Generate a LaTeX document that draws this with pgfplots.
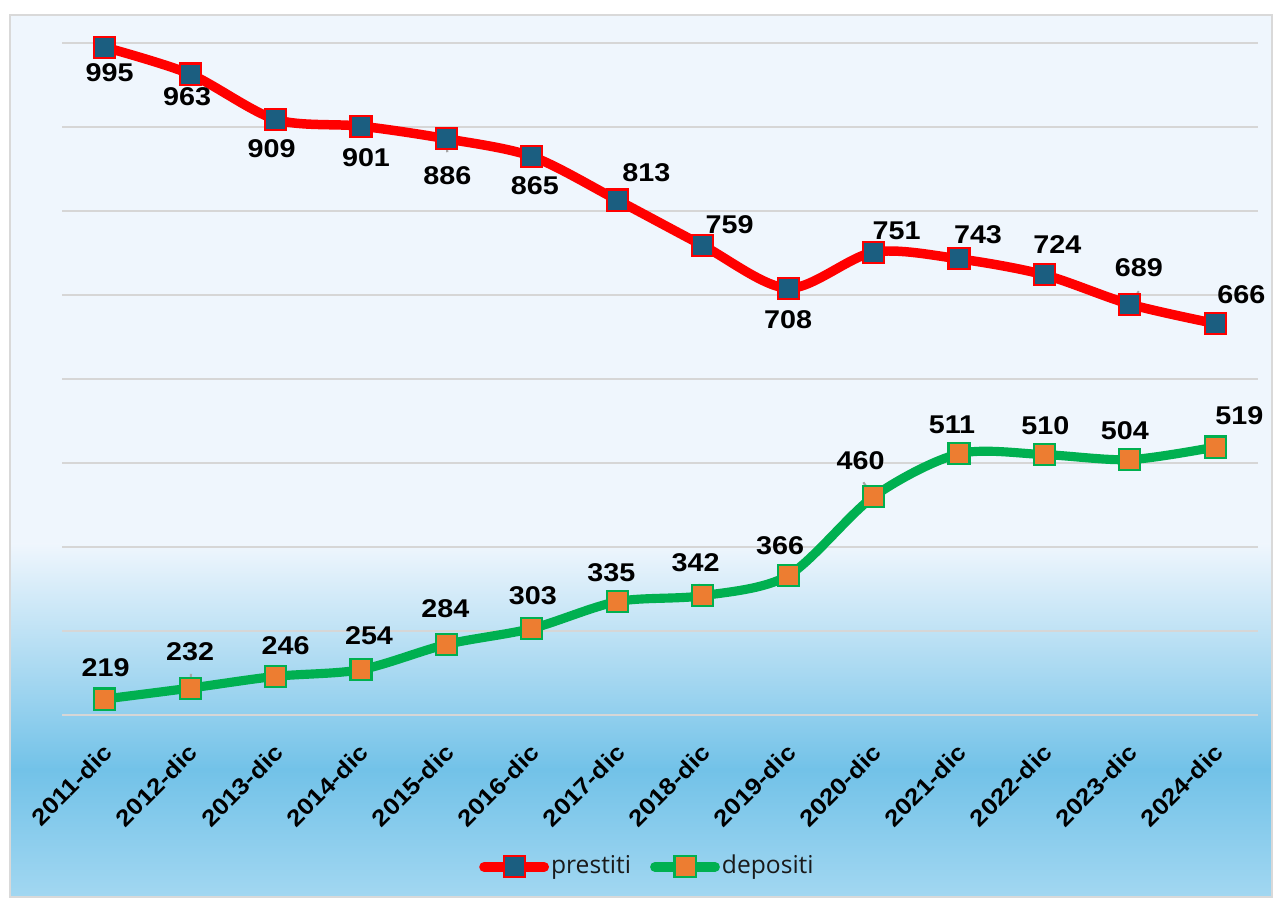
\documentclass[border=0pt]{standalone}
\usepackage{fontspec}
\setmainfont{Liberation Sans}
\newfontfamily\lblfont[FakeStretch=1.12]{Liberation Sans}
\newfontfamily\legfont{Open Sans}
\usepackage{pgfplots}
\usepackage{pgfplotstable}
\pgfplotsset{compat=1.18}

\definecolor{redl}{HTML}{FF0000}
\definecolor{bluem}{HTML}{1B5E80}
\definecolor{greenl}{HTML}{00B050}
\definecolor{orangem}{HTML}{ED7D31}
\definecolor{bgtop}{HTML}{EFF6FD}
\definecolor{bgmid}{HTML}{72C2E8}
\definecolor{bgbot}{HTML}{A2D7F1}
\definecolor{gridc}{HTML}{D6D6D6}
\definecolor{framec}{HTML}{D9D9D9}
\definecolor{leadc}{HTML}{A6A6A6}

\pgfplotstableread{
x y dx dy
0 995 5 -25
1 963 -3 -23
2 909 -4 -29
3 901 5 -32
4 886 1 -37
5 865 3 -29
6 813 29 27
7 759 27 21
8 708 0 -31
9 751 23 21
10 743 19 24
11 724 13 30
12 689 9 37
13 666 26 29
}\prestiti

\pgfplotstableread{
x y dx dy
0 219 1 31
1 232 0 36
2 246 10 31
3 254 8 34
4 284 -1 36
5 303 1 33
6 335 -6 29
7 342 -7 33
8 366 -8 30
9 460 -13 36
10 511 -7 29
11 510 1 29
12 504 -5 29
13 519 24 31
}\depositi

% leader lines of the data labels: start point and extent (axis units)
\pgfplotstableread{
x y u v
4 886 0.01 -16
12 689 0.105 15.5
1 232 0.01 17
3 254 0.09 13
4 284 0 14
5 303 0.01 13
7 342 -0.05 14
9 460 -0.12 17
}\leaders

\pgfplotsset{
  lbls/.style={
    nodes near coords, point meta=explicit symbolic,
    visualization depends on={\thisrow{dx}\as\dx},
    visualization depends on={\thisrow{dy}\as\dy},
    nodes near coords style={anchor=center, inner sep=0pt, text=black,
      font=\lblfont\bfseries\fontsize{7.3}{8}\selectfont,
      xshift=\dx*0.2845pt, yshift=\dy*0.2845pt},
  },
}

\begin{document}
\begin{tikzpicture}
\useasboundingbox (0,0) rectangle (12.75,9);
\fill[white] (0,0) rectangle (12.75,9);
\fill[bgtop] (0.1,3.55) rectangle (12.72,8.85);
\shade[top color=bgtop,bottom color=bgmid] (0.1,1.30) rectangle (12.72,3.56);
\shade[top color=bgmid,bottom color=bgbot] (0.1,0.03) rectangle (12.72,1.31);
\draw[framec, line width=0.6pt] (0.1,0.03) rectangle (12.72,8.85);
\begin{axis}[
  at={(0.62cm,1.85cm)}, anchor=south west,
  width=11.96cm, height=6.72cm, scale only axis,
  xmin=-0.5, xmax=13.5, ymin=200, ymax=1000,
  ytick={200,300,...,1000}, yticklabels={},
  xtick={0,...,13},
  xticklabels={2011-dic,2012-dic,2013-dic,2014-dic,2015-dic,2016-dic,2017-dic,2018-dic,2019-dic,2020-dic,2021-dic,2022-dic,2023-dic,2024-dic},
  ymajorgrids, grid style={gridc, line width=0.6pt},
  axis line style={draw=none}, major tick length=0,
  clip=false,
  xticklabel style={font=\lblfont\bfseries\fontsize{6.6}{7}\selectfont, xshift=0.12cm, yshift=-0.25cm, rotate=45, anchor=east},
  legend style={at={(0.4916,-0.226)}, anchor=center, draw=none, fill=none,
    font=\legfont\fontsize{7}{8}\selectfont, text=black!90,
    /tikz/every even column/.append style={column sep=0.12cm},
    /tikz/every odd column/.append style={column sep=-0.05cm}},
  legend image post style={line width=2.8pt},
  legend columns=2,
  legend cell align=left,
]
\addplot[redl, line width=2.7pt, smooth, line cap=round, mark=square*, mark size=3pt,
  mark options={fill=bluem, draw=redl, line width=0.6pt, solid}, lbls]
  table[x=x,y=y,meta=y] {\prestiti};
\addlegendentry{prestiti}
\addplot[greenl, line width=2.6pt, smooth, line cap=round, mark=square*, mark size=3pt,
  mark options={fill=orangem, draw=greenl, line width=0.6pt, solid}, lbls]
  table[x=x,y=y,meta=y] {\depositi};
\addlegendentry{depositi}
\addplot[leadc, line width=0.6pt, no marks, forget plot,
  quiver={u=\thisrow{u}, v=\thisrow{v}}]
  table[x=x,y=y] {\leaders};
\end{axis}
\end{tikzpicture}
\end{document}
